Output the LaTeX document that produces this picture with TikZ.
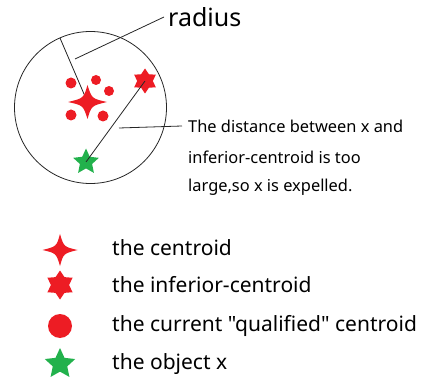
\documentclass[tikz,border=0pt]{standalone}
\usepackage{fontspec}
\setmainfont{Noto Sans}[Ligatures=TeXOff]
\usetikzlibrary{shapes.geometric}
\definecolor{sred}{RGB}{237,28,36}
\definecolor{sgreen}{RGB}{34,177,76}
\tikzset{
  x=1pt,y=-1pt,
  thinline/.style={draw=black!85,line width=0.8pt},
  dotmark/.style={circle,fill=sred,inner sep=0pt,minimum size=#1},
  hexmark/.style={star,star points=6,star point ratio=1.6,fill=sred,inner sep=0pt,minimum size=#1},
  greenmark/.style={star,star points=5,star point ratio=2.1,fill=sgreen,inner sep=0pt,minimum size=#1},
  legtext/.style={anchor=west,inner sep=0pt,font=\fontsize{21}{24}\selectfont},
  notetext/.style={anchor=west,inner sep=0pt,font=\fontsize{16.4}{18}\selectfont},
}
\newcommand{\fourstar}[4]{% x y a b
  \fill[sred] (#1+#3,#2) .. controls (#1+0.22*#3,#2-0.2*#4) .. (#1,#2-#4)
    .. controls (#1-0.2*#3,#2-0.22*#4) .. (#1-#3,#2)
    .. controls (#1-0.22*#3,#2+0.2*#4) .. (#1,#2+#4)
    .. controls (#1+0.2*#3,#2+0.22*#4) .. (#1+#3,#2) -- cycle;}
\begin{document}
\begin{tikzpicture}
\useasboundingbox (0,0) rectangle (423,382);
% circle
\node[circle,draw=black!85,line width=0.8pt,minimum size=152pt,inner sep=0pt] (circ) at (90.5,107.5) {};
\coordinate (ctr) at (87,101);
\coordinate (rim) at (60,38);
\coordinate (rmid) at (75,59);
\node[inner sep=0pt,anchor=base west,font=\fontsize{25}{28}\selectfont] (rad) at (168,27) {radius};
\coordinate (radend) at (164,17);
\draw[thinline] (rim) -- (ctr);
\draw[thinline] (rmid) -- (radend);
% dots
\node[dotmark=11pt] (d1) at (71,83) {};
\node[dotmark=10pt] (d2) at (96,80) {};
\node[dotmark=10pt] (d3) at (109,91) {};
\node[dotmark=11pt] (d4) at (71,115) {};
\node[dotmark=11pt] (d5) at (103,116) {};
\fourstar{87.5}{102}{19.5}{17}
\node[hexmark=25pt] (inf) at (145,81) {};
\node[greenmark=27pt] (obj) at (86,162) {};
\draw[thinline] (obj.center) -- (inf.center);
% note
\coordinate (nstart) at (119,128);
\node[notetext] (n1) at (188,126) {The distance between x and};
\node[notetext] (n2) at (188,157) {inferior-centroid is too};
\node[notetext] (n3) at (188,187) {large,so x is expelled.};
\draw[thinline] (nstart) -- ([xshift=-6pt]n1.west);
% legend
\fourstar{60}{250}{17.5}{16}
\node[legtext] (l1) at (112,248) {the centroid};
\node[hexmark=29pt] (s2) at (60,285) {};
\node[legtext] (l2) at (112,285) {the inferior-centroid};
\node[dotmark=24pt] (s3) at (60,326) {};
\node[legtext] (l3) at (112,326) {the current "qualified" centroid};
\node[greenmark=32pt] (s4) at (60,364) {};
\node[legtext] (l4) at (112,364) {the object x};
\end{tikzpicture}
\end{document}
